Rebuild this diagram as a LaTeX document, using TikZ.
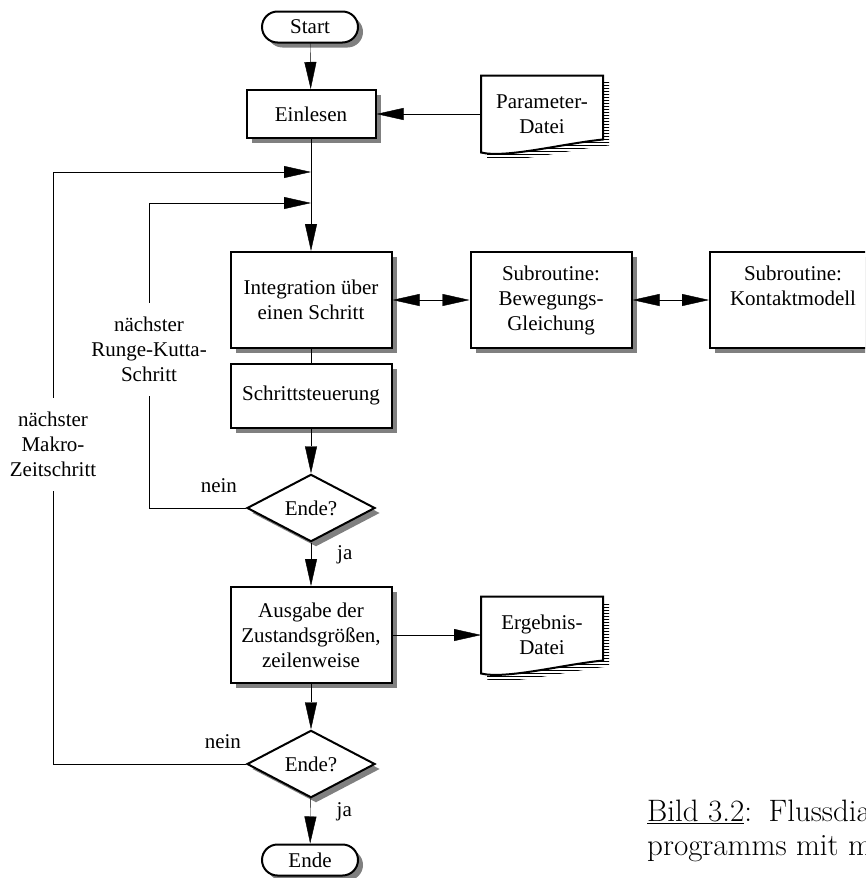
\documentclass[tikz,border=0pt]{standalone}
\usepackage{fontspec}
\newfontfamily\timesfont{Liberation Serif}
\usepackage{tikz}
\usetikzlibrary{shapes.geometric,shapes.misc,arrows.meta,positioning,shadows,patterns}
\pgfdeclarelayer{bg}
\pgfsetlayers{bg,main}

\begin{document}
\begin{tikzpicture}[x=1pt, y=-1pt, >={Triangle[length=27pt,width=12pt]}, line width=2pt,
  font=\timesfont\fontsize{21}{25}\selectfont,
  schatten/.style={drop shadow={shadow xshift=5pt, shadow yshift=-5pt, fill=black!50, opacity=1}},
  box/.style={draw, fill=white, rectangle, align=center, inner sep=2pt, minimum width=161pt, minimum height=96pt, schatten},
  term/.style={draw, fill=white, rounded rectangle, inner sep=0pt, minimum width=96pt, minimum height=31pt, schatten},
  dec/.style={draw, fill=white, diamond, inner sep=0pt, minimum width=128pt, minimum height=64pt, schatten},
  datei/.style={rectangle, align=center, inner sep=0pt, minimum width=120pt, minimum height=75pt},
  lbl/.style={inner sep=3pt},
  schleife/.style={fill=white, align=center, inner sep=14pt},
  bildtext/.style={anchor=base west, inner sep=0pt, font=\rmfamily\fontsize{31}{35}\selectfont}]
\path[use as bounding box, clip] (0,0) rectangle (865,878);
\node[term] (start) at (310,27) {Start};
\node[box, minimum width=129pt, minimum height=48pt] (ein) at (311,114) {Einlesen};
\node[datei] (par) at (542,114) {Parameter-\\Datei};
\node[box] (int) at (311,300) {Integration über\\einen Schritt};
\node[box] (bew) at (551,300) {Subroutine:\\Bewegungs-\\Gleichung};
\node[box, minimum width=166pt] (kon) at (793,300) {Subroutine:\\Kontaktmodell\\\vphantom{g}};
\node[box, minimum height=64pt] (sch) at (311,395.5) {Schrittsteuerung};
\node[dec] (e1) at (311,508) {Ende?};
\node[box] (aus) at (311,635) {Ausgabe der\\Zustandsgrößen,\\zeilenweise};
\node[datei] (erg) at (542,635) {Ergebnis-\\Datei};
\node[dec] (e2) at (311,764) {Ende?};
\node[term] (ende) at (310,860) {Ende};
\coordinate (m1) at (311,172);
\coordinate (m2) at (311,203);
% Dateien mit Schraffur-Schatten
\begin{pgfonlayer}{bg}
\foreach \d in {par,erg}{
  \fill[pattern=horizontal lines, transform canvas={shift={(6pt,-6pt)}}] (\d.north west) -- (\d.north east) -- ([shift={(0,-13)}]\d.south east) .. controls +(-40,4) and +(25,6) .. (\d.south west) -- cycle;
  \draw[line width=2pt, fill=white] (\d.north west) -- (\d.north east) -- ([shift={(0,-13)}]\d.south east) .. controls +(-40,4) and +(25,6) .. (\d.south west) -- cycle;
}
\end{pgfonlayer}
\draw[->] (start) -- (ein);
\draw[->] (par) -- (ein);
\draw[->] (ein) -- (int);
\draw[<->] (int) -- (bew);
\draw[<->] (bew) -- (kon);
\draw (int) -- (sch);
\draw[->] (sch) -- (e1);
\draw[->] (e1) -- node[lbl, right=23pt, pos=0.27]{ja} (aus);
\draw[->] (aus) -- (erg);
\draw[->] (aus) -- (e2);
\draw[->] (e2) -- node[lbl, right=23pt, pos=0.29]{ja} (ende);
% Schleifen
\draw[->] (e1.west) -- node[lbl, above=12pt, pos=0.28]{nein} ++(-97,0) |- node[schleife, pos=0.26]{nächster\\Runge-Kutta-\\Schritt} (m2);
\draw[->] (e2.west) -- node[lbl, above=12pt, pos=0.12]{nein} ++(-193,0) |- node[schleife, pos=0.27]{nächster\\Makro-\\Zeitschritt} (m1);
% Bildunterschrift
\node[bildtext] (cap1) at (647,821) {\underline{Bild 3.2}:\hspace{4pt} Flussdia};
\node[bildtext] (cap2) at (647,855) {programms mit m};
\end{tikzpicture}
\end{document}
